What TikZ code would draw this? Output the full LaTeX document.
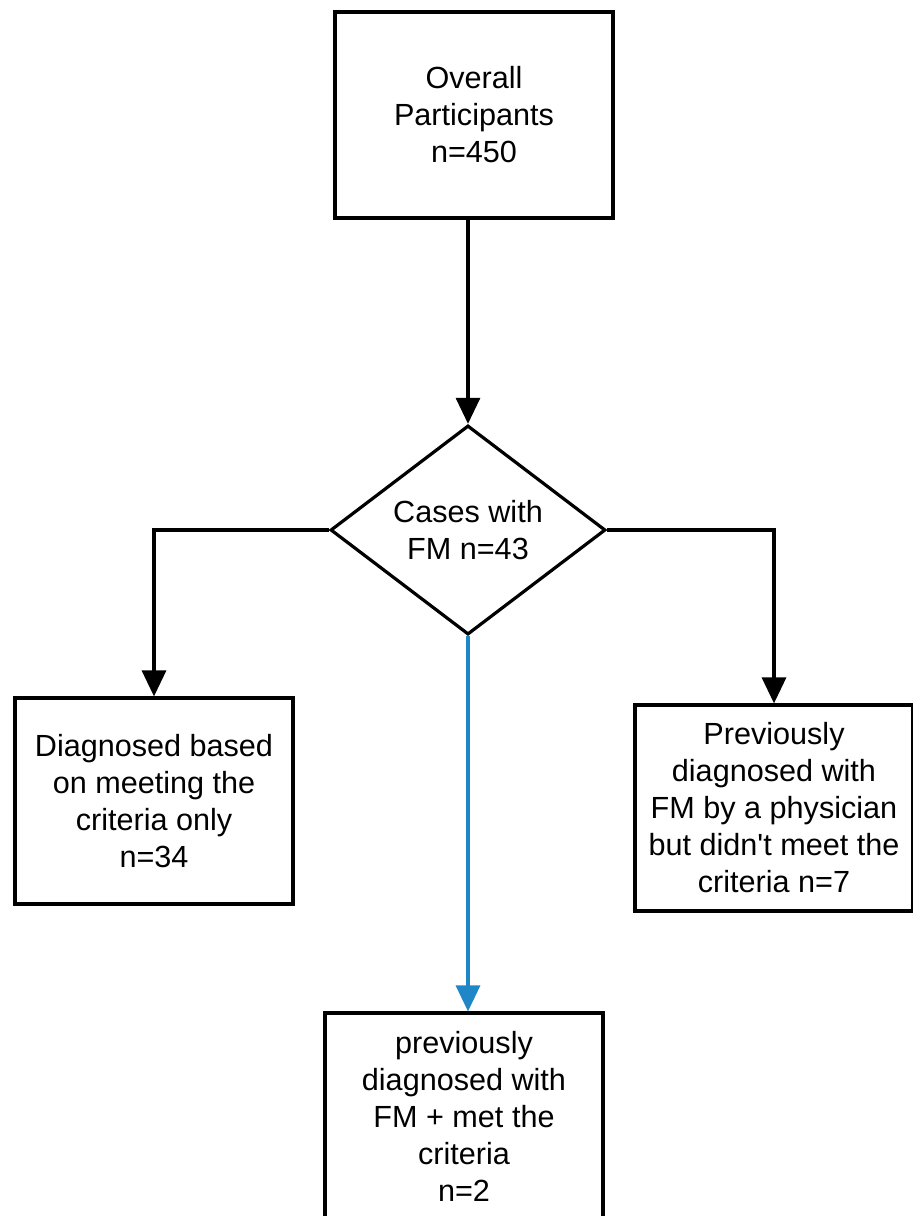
\documentclass[tikz,border=0pt]{standalone}
\usepackage{fontspec}
\setmainfont{Liberation Sans}
\usetikzlibrary{shapes.geometric,arrows.meta}

\begin{document}
\begin{tikzpicture}[x=1pt,y=-1pt]
		\tikzset{flowbox/.style={draw,line width=3.2pt,rectangle,minimum width=278pt,minimum height=206pt,align=center,inner sep=0pt,font=\fontsize{30.6}{37}\selectfont}};
		\tikzset{decision/.style={draw,line width=3.2pt,diamond,minimum width=275pt,minimum height=206pt,inner sep=0pt,align=center,font=\fontsize{30.6}{37}\selectfont}};
		\tikzset{flowarrow/.style={line width=3.2pt,-{Triangle[length=26pt,width=24pt]}}};
		\useasboundingbox (0,0) rectangle (913,1216);
		\fill[white] (0,0) rectangle (913,1216);
		
		\node[flowbox] (overall) at (474,115) {Overall\\Participants\\n=450};
		\node[decision] (cases) at (468,530) {Cases with\\FM n=43};
		\node[flowbox] (criteria) at (154,801) {Diagnosed based\\on meeting the\\criteria only\\n=34};
		\node[flowbox] (physician) at (774,808) {Previously\\diagnosed with\\FM by a physician\\but didn\textquotesingle t meet the\\criteria n=7};
		\node[flowbox] (both) at (464,1116) {previously\\diagnosed with\\FM + met the\\criteria\\n=2};
		
		\draw[flowarrow] (cases.north |- overall.south) -- (cases.north);
		\draw[flowarrow] (cases.west) -| (criteria.north);
		\draw[flowarrow] (cases.east) -| (physician.north);
		\draw[flowarrow,color={rgb,255:red,31;green,134;blue,200}] (cases.south) -- (cases.south |- both.north);
	\end{tikzpicture}
\end{document}
